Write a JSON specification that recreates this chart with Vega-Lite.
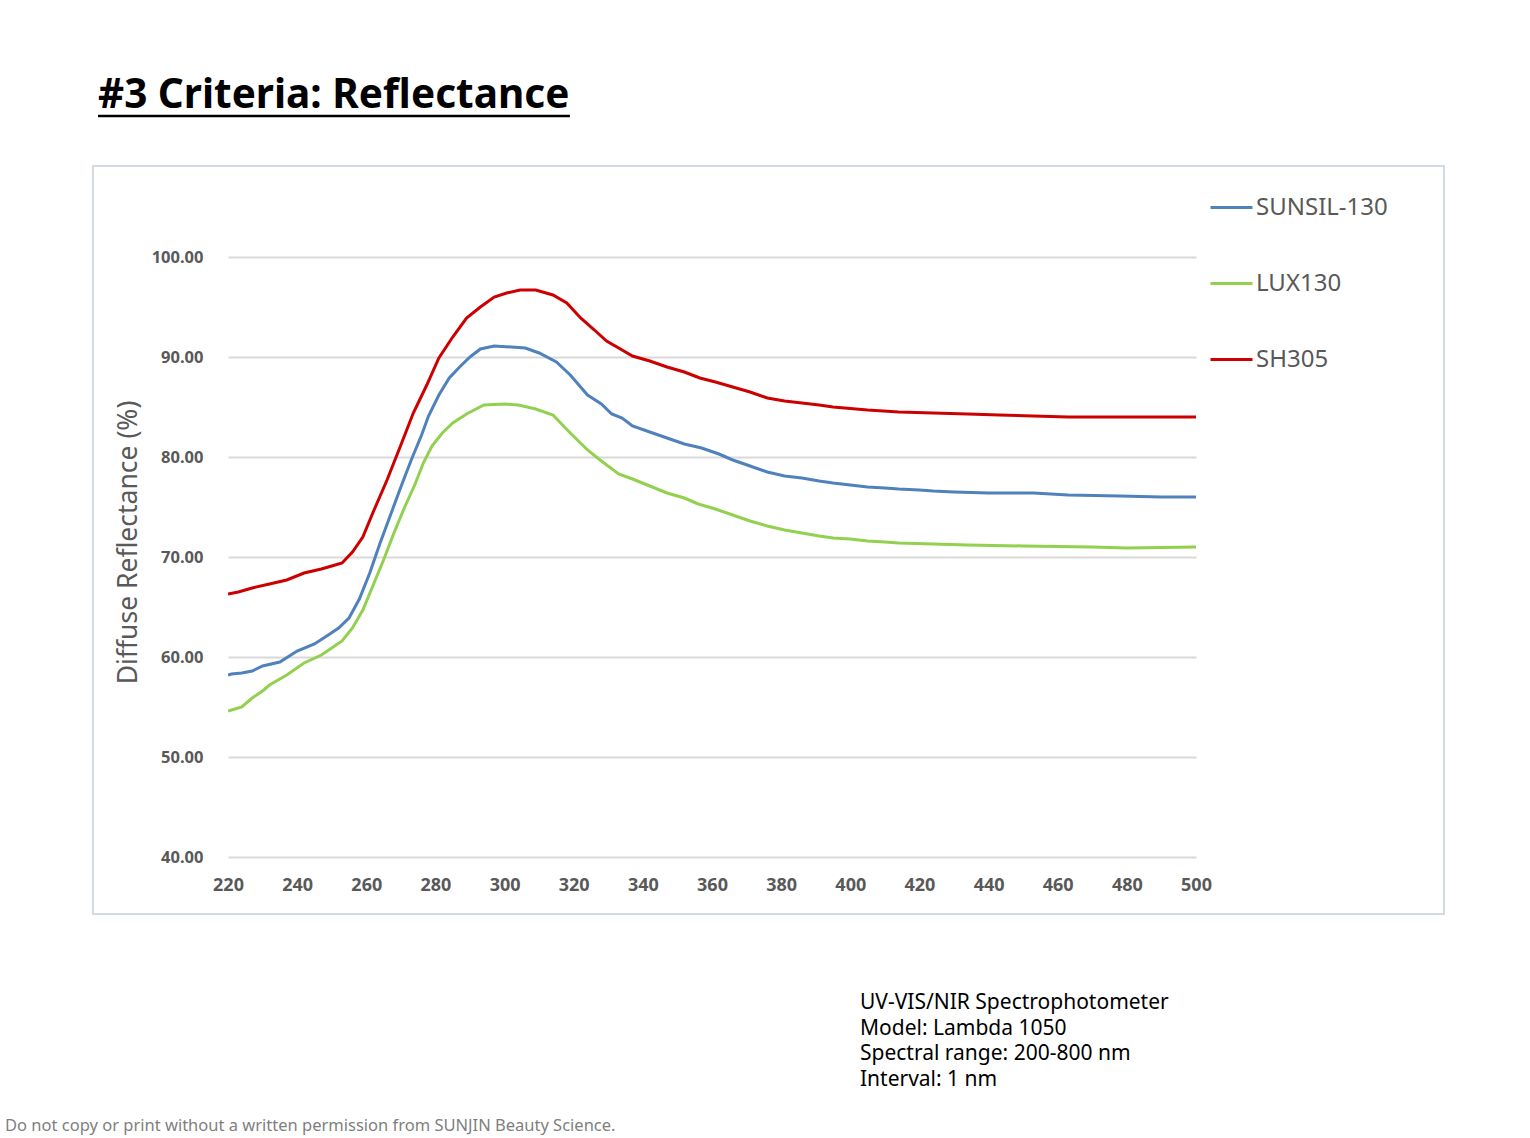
{
  "$schema": "https://vega.github.io/schema/vega-lite/v6.json",
  "width": 968,
  "height": 600,
  "autosize": {"type": "none"},
  "padding": {"left": 228, "top": 257, "right": 334, "bottom": 281},
  "background": "white",
  "config": {
    "view": {"stroke": null},
    "font": "Noto Sans",
    "axis": {"labelColor": "#595959", "titleColor": "#595959"}
  },
  "datasets": {
    "reflectance": [
      {"wl": 220, "sample": "SUNSIL-130", "r": 58.2},
      {"wl": 221, "sample": "SUNSIL-130", "r": 58.3},
      {"wl": 224, "sample": "SUNSIL-130", "r": 58.4},
      {"wl": 227, "sample": "SUNSIL-130", "r": 58.6},
      {"wl": 230, "sample": "SUNSIL-130", "r": 59.1},
      {"wl": 235, "sample": "SUNSIL-130", "r": 59.5},
      {"wl": 240, "sample": "SUNSIL-130", "r": 60.6},
      {"wl": 245, "sample": "SUNSIL-130", "r": 61.3},
      {"wl": 249, "sample": "SUNSIL-130", "r": 62.2},
      {"wl": 252, "sample": "SUNSIL-130", "r": 62.9},
      {"wl": 255, "sample": "SUNSIL-130", "r": 63.9},
      {"wl": 258, "sample": "SUNSIL-130", "r": 65.8},
      {"wl": 261, "sample": "SUNSIL-130", "r": 68.4},
      {"wl": 264, "sample": "SUNSIL-130", "r": 71.4},
      {"wl": 267, "sample": "SUNSIL-130", "r": 74.2},
      {"wl": 270, "sample": "SUNSIL-130", "r": 77.0},
      {"wl": 273, "sample": "SUNSIL-130", "r": 79.7},
      {"wl": 276, "sample": "SUNSIL-130", "r": 82.2},
      {"wl": 278, "sample": "SUNSIL-130", "r": 84.1},
      {"wl": 281, "sample": "SUNSIL-130", "r": 86.2},
      {"wl": 284, "sample": "SUNSIL-130", "r": 87.9},
      {"wl": 287, "sample": "SUNSIL-130", "r": 89.0},
      {"wl": 290, "sample": "SUNSIL-130", "r": 90.0},
      {"wl": 293, "sample": "SUNSIL-130", "r": 90.8},
      {"wl": 297, "sample": "SUNSIL-130", "r": 91.1},
      {"wl": 302, "sample": "SUNSIL-130", "r": 91.0},
      {"wl": 306, "sample": "SUNSIL-130", "r": 90.9},
      {"wl": 310, "sample": "SUNSIL-130", "r": 90.4},
      {"wl": 315, "sample": "SUNSIL-130", "r": 89.5},
      {"wl": 319, "sample": "SUNSIL-130", "r": 88.2},
      {"wl": 324, "sample": "SUNSIL-130", "r": 86.2},
      {"wl": 328, "sample": "SUNSIL-130", "r": 85.3},
      {"wl": 331, "sample": "SUNSIL-130", "r": 84.3},
      {"wl": 334, "sample": "SUNSIL-130", "r": 83.9},
      {"wl": 337, "sample": "SUNSIL-130", "r": 83.1},
      {"wl": 342, "sample": "SUNSIL-130", "r": 82.5},
      {"wl": 347, "sample": "SUNSIL-130", "r": 81.9},
      {"wl": 352, "sample": "SUNSIL-130", "r": 81.3},
      {"wl": 357, "sample": "SUNSIL-130", "r": 80.9},
      {"wl": 362, "sample": "SUNSIL-130", "r": 80.3},
      {"wl": 366, "sample": "SUNSIL-130", "r": 79.7},
      {"wl": 371, "sample": "SUNSIL-130", "r": 79.1},
      {"wl": 376, "sample": "SUNSIL-130", "r": 78.5},
      {"wl": 381, "sample": "SUNSIL-130", "r": 78.1},
      {"wl": 386, "sample": "SUNSIL-130", "r": 77.9},
      {"wl": 391, "sample": "SUNSIL-130", "r": 77.6},
      {"wl": 395, "sample": "SUNSIL-130", "r": 77.4},
      {"wl": 400, "sample": "SUNSIL-130", "r": 77.2},
      {"wl": 405, "sample": "SUNSIL-130", "r": 77.0},
      {"wl": 410, "sample": "SUNSIL-130", "r": 76.9},
      {"wl": 414, "sample": "SUNSIL-130", "r": 76.8},
      {"wl": 420, "sample": "SUNSIL-130", "r": 76.7},
      {"wl": 424, "sample": "SUNSIL-130", "r": 76.6},
      {"wl": 430, "sample": "SUNSIL-130", "r": 76.5},
      {"wl": 440, "sample": "SUNSIL-130", "r": 76.4},
      {"wl": 453, "sample": "SUNSIL-130", "r": 76.4},
      {"wl": 463, "sample": "SUNSIL-130", "r": 76.2},
      {"wl": 478, "sample": "SUNSIL-130", "r": 76.1},
      {"wl": 490, "sample": "SUNSIL-130", "r": 76.0},
      {"wl": 500, "sample": "SUNSIL-130", "r": 76.0},
      {"wl": 220, "sample": "LUX130", "r": 54.6},
      {"wl": 222, "sample": "LUX130", "r": 54.8},
      {"wl": 224, "sample": "LUX130", "r": 55.0},
      {"wl": 227, "sample": "LUX130", "r": 55.9},
      {"wl": 230, "sample": "LUX130", "r": 56.6},
      {"wl": 232, "sample": "LUX130", "r": 57.2},
      {"wl": 237, "sample": "LUX130", "r": 58.2},
      {"wl": 242, "sample": "LUX130", "r": 59.4},
      {"wl": 247, "sample": "LUX130", "r": 60.2},
      {"wl": 250, "sample": "LUX130", "r": 60.9},
      {"wl": 253, "sample": "LUX130", "r": 61.6},
      {"wl": 256, "sample": "LUX130", "r": 62.9},
      {"wl": 259, "sample": "LUX130", "r": 64.7},
      {"wl": 262, "sample": "LUX130", "r": 67.2},
      {"wl": 265, "sample": "LUX130", "r": 69.7},
      {"wl": 268, "sample": "LUX130", "r": 72.4},
      {"wl": 271, "sample": "LUX130", "r": 74.9},
      {"wl": 274, "sample": "LUX130", "r": 77.2},
      {"wl": 276.5, "sample": "LUX130", "r": 79.4},
      {"wl": 279, "sample": "LUX130", "r": 81.1},
      {"wl": 282, "sample": "LUX130", "r": 82.4},
      {"wl": 285, "sample": "LUX130", "r": 83.4},
      {"wl": 289, "sample": "LUX130", "r": 84.3},
      {"wl": 294, "sample": "LUX130", "r": 85.2},
      {"wl": 300, "sample": "LUX130", "r": 85.3},
      {"wl": 304, "sample": "LUX130", "r": 85.2},
      {"wl": 309, "sample": "LUX130", "r": 84.8},
      {"wl": 314, "sample": "LUX130", "r": 84.2},
      {"wl": 319, "sample": "LUX130", "r": 82.4},
      {"wl": 324, "sample": "LUX130", "r": 80.7},
      {"wl": 328, "sample": "LUX130", "r": 79.6},
      {"wl": 333, "sample": "LUX130", "r": 78.3},
      {"wl": 337, "sample": "LUX130", "r": 77.8},
      {"wl": 342, "sample": "LUX130", "r": 77.1},
      {"wl": 347, "sample": "LUX130", "r": 76.4},
      {"wl": 352, "sample": "LUX130", "r": 75.9},
      {"wl": 356, "sample": "LUX130", "r": 75.3},
      {"wl": 361, "sample": "LUX130", "r": 74.8},
      {"wl": 366, "sample": "LUX130", "r": 74.2},
      {"wl": 371, "sample": "LUX130", "r": 73.6},
      {"wl": 376, "sample": "LUX130", "r": 73.1},
      {"wl": 381, "sample": "LUX130", "r": 72.7},
      {"wl": 386, "sample": "LUX130", "r": 72.4},
      {"wl": 391, "sample": "LUX130", "r": 72.1},
      {"wl": 395, "sample": "LUX130", "r": 71.9},
      {"wl": 400, "sample": "LUX130", "r": 71.8},
      {"wl": 405, "sample": "LUX130", "r": 71.6},
      {"wl": 410, "sample": "LUX130", "r": 71.5},
      {"wl": 414, "sample": "LUX130", "r": 71.4},
      {"wl": 424, "sample": "LUX130", "r": 71.3},
      {"wl": 434, "sample": "LUX130", "r": 71.2},
      {"wl": 450, "sample": "LUX130", "r": 71.1},
      {"wl": 470, "sample": "LUX130", "r": 71.0},
      {"wl": 480, "sample": "LUX130", "r": 70.9},
      {"wl": 490, "sample": "LUX130", "r": 70.95},
      {"wl": 500, "sample": "LUX130", "r": 71.0},
      {"wl": 220, "sample": "SH305", "r": 66.3},
      {"wl": 223, "sample": "SH305", "r": 66.5},
      {"wl": 227, "sample": "SH305", "r": 66.9},
      {"wl": 232, "sample": "SH305", "r": 67.3},
      {"wl": 237, "sample": "SH305", "r": 67.7},
      {"wl": 242, "sample": "SH305", "r": 68.4},
      {"wl": 247, "sample": "SH305", "r": 68.8},
      {"wl": 250, "sample": "SH305", "r": 69.1},
      {"wl": 253, "sample": "SH305", "r": 69.4},
      {"wl": 256, "sample": "SH305", "r": 70.5},
      {"wl": 259, "sample": "SH305", "r": 72.0},
      {"wl": 262, "sample": "SH305", "r": 74.5},
      {"wl": 266, "sample": "SH305", "r": 77.7},
      {"wl": 270, "sample": "SH305", "r": 81.2},
      {"wl": 273.6, "sample": "SH305", "r": 84.4},
      {"wl": 277.5, "sample": "SH305", "r": 87.2},
      {"wl": 281, "sample": "SH305", "r": 89.9},
      {"wl": 285, "sample": "SH305", "r": 92.0},
      {"wl": 289, "sample": "SH305", "r": 93.9},
      {"wl": 293, "sample": "SH305", "r": 95.0},
      {"wl": 297, "sample": "SH305", "r": 96.0},
      {"wl": 300.6, "sample": "SH305", "r": 96.4},
      {"wl": 304.5, "sample": "SH305", "r": 96.7},
      {"wl": 309, "sample": "SH305", "r": 96.7},
      {"wl": 314, "sample": "SH305", "r": 96.2},
      {"wl": 318, "sample": "SH305", "r": 95.4},
      {"wl": 322, "sample": "SH305", "r": 93.9},
      {"wl": 326, "sample": "SH305", "r": 92.7},
      {"wl": 329.5, "sample": "SH305", "r": 91.6},
      {"wl": 333, "sample": "SH305", "r": 90.9},
      {"wl": 337, "sample": "SH305", "r": 90.1},
      {"wl": 342, "sample": "SH305", "r": 89.6},
      {"wl": 347, "sample": "SH305", "r": 89.0},
      {"wl": 352, "sample": "SH305", "r": 88.5},
      {"wl": 356.5, "sample": "SH305", "r": 87.9},
      {"wl": 361, "sample": "SH305", "r": 87.5},
      {"wl": 366, "sample": "SH305", "r": 87.0},
      {"wl": 371, "sample": "SH305", "r": 86.5},
      {"wl": 376, "sample": "SH305", "r": 85.9},
      {"wl": 381, "sample": "SH305", "r": 85.6},
      {"wl": 386, "sample": "SH305", "r": 85.4},
      {"wl": 391, "sample": "SH305", "r": 85.2},
      {"wl": 395, "sample": "SH305", "r": 85.0},
      {"wl": 400, "sample": "SH305", "r": 84.85},
      {"wl": 405, "sample": "SH305", "r": 84.7},
      {"wl": 414, "sample": "SH305", "r": 84.5},
      {"wl": 424, "sample": "SH305", "r": 84.4},
      {"wl": 434, "sample": "SH305", "r": 84.3},
      {"wl": 443, "sample": "SH305", "r": 84.2},
      {"wl": 453, "sample": "SH305", "r": 84.1},
      {"wl": 463, "sample": "SH305", "r": 84.0},
      {"wl": 500, "sample": "SH305", "r": 84.0}
    ],
    "one": [{}]
  },
  "layer": [
    {
      "data": {"name": "one"},
      "mark": {"type": "rect", "fill": null, "stroke": "#d3dae6", "strokeWidth": 2},
      "encoding": {
        "x": {"datum": 180.95, "type": "quantitative"},
        "x2": {"datum": 571.74},
        "y": {"datum": 109.1, "type": "quantitative"},
        "y2": {"datum": 34.3}
      }
    },
    {
      "data": {"name": "reflectance"},
      "mark": {"type": "line", "strokeWidth": 3, "clip": true},
      "encoding": {
        "x": {
          "field": "wl",
          "type": "quantitative",
          "title": null,
          "scale": {"domain": [220, 500], "nice": false, "zero": false},
          "axis": {
            "values": [220, 240, 260, 280, 300, 320, 340, 360, 380, 400, 420, 440, 460, 480, 500],
            "grid": false,
            "ticks": false,
            "domain": false,
            "labelFlush": false,
            "labelFontSize": 18,
            "labelFontWeight": "bold",
            "labelPadding": 19
          }
        },
        "y": {
          "field": "r",
          "type": "quantitative",
          "title": "Diffuse Reflectance (%)",
          "scale": {"domain": [40, 100], "nice": false, "zero": false},
          "axis": {
            "values": [40, 50, 60, 70, 80, 90, 100],
            "format": ".2f",
            "grid": true,
            "gridColor": "#d9d9d9",
            "gridWidth": 2,
            "ticks": false,
            "domain": false,
            "labelFontSize": 16.5,
            "labelFontWeight": "bold",
            "labelPadding": 25,
            "titleFontSize": 26.5,
            "titleFontWeight": "normal",
            "titleX": -100,
            "titleY": 285,
            "titleBaseline": "middle",
            "titleAlign": "center"
          }
        },
        "color": {
          "field": "sample",
          "type": "nominal",
          "sort": ["SUNSIL-130", "LUX130", "SH305"],
          "scale": {"domain": ["SUNSIL-130", "LUX130", "SH305"], "range": ["#4f81bd", "#92d050", "#cc0000"]},
          "legend": {
            "title": null,
            "orient": "none",
            "legendX": 981,
            "legendY": -72,
            "symbolType": "stroke",
            "symbolSize": 1764,
            "symbolStrokeWidth": 3,
            "labelFontSize": 24,
            "labelColor": "#595959",
            "labelOffset": 2,
            "rowPadding": 41,
            "padding": 0
          }
        }
      }
    },
    {
      "data": {"name": "one"},
      "mark": {"type": "text", "text": "#3 Criteria: Reflectance", "font": "Noto Sans", "fontSize": 40.5, "fontWeight": "bold", "align": "left", "baseline": "alphabetic", "color": "black"},
      "encoding": {
        "x": {"datum": 182.4, "type": "quantitative"},
        "y": {"datum": 114.9, "type": "quantitative"}
      }
    },
    {
      "data": {"name": "one"},
      "mark": {"type": "rule", "color": "black", "strokeWidth": 2.5},
      "encoding": {
        "x": {"datum": 182.4, "type": "quantitative"},
        "x2": {"datum": 318.9},
        "y": {"datum": 114.1, "type": "quantitative"}
      }
    },
    {
      "data": {"name": "one"},
      "mark": {
        "type": "text",
        "text": ["UV-VIS/NIR Spectrophotometer", "Model: Lambda 1050", "Spectral range: 200-800 nm", "Interval: 1 nm"],
        "fontSize": 21,
        "lineHeight": 25.6,
        "align": "left",
        "baseline": "middle",
        "color": "black"
      },
      "encoding": {
        "x": {"datum": 402.8, "type": "quantitative"},
        "y": {"datum": 25.4, "type": "quantitative"}
      }
    },
    {
      "data": {"name": "one"},
      "mark": {
        "type": "text",
        "text": "Do not copy or print without a written permission from SUNJIN Beauty Science.",
        "fontSize": 16.5,
        "align": "left",
        "baseline": "bottom",
        "color": "#7f7f7f"
      },
      "encoding": {
        "x": {"datum": 155.5, "type": "quantitative"},
        "y": {"datum": 12.3, "type": "quantitative"}
      }
    }
  ]
}
